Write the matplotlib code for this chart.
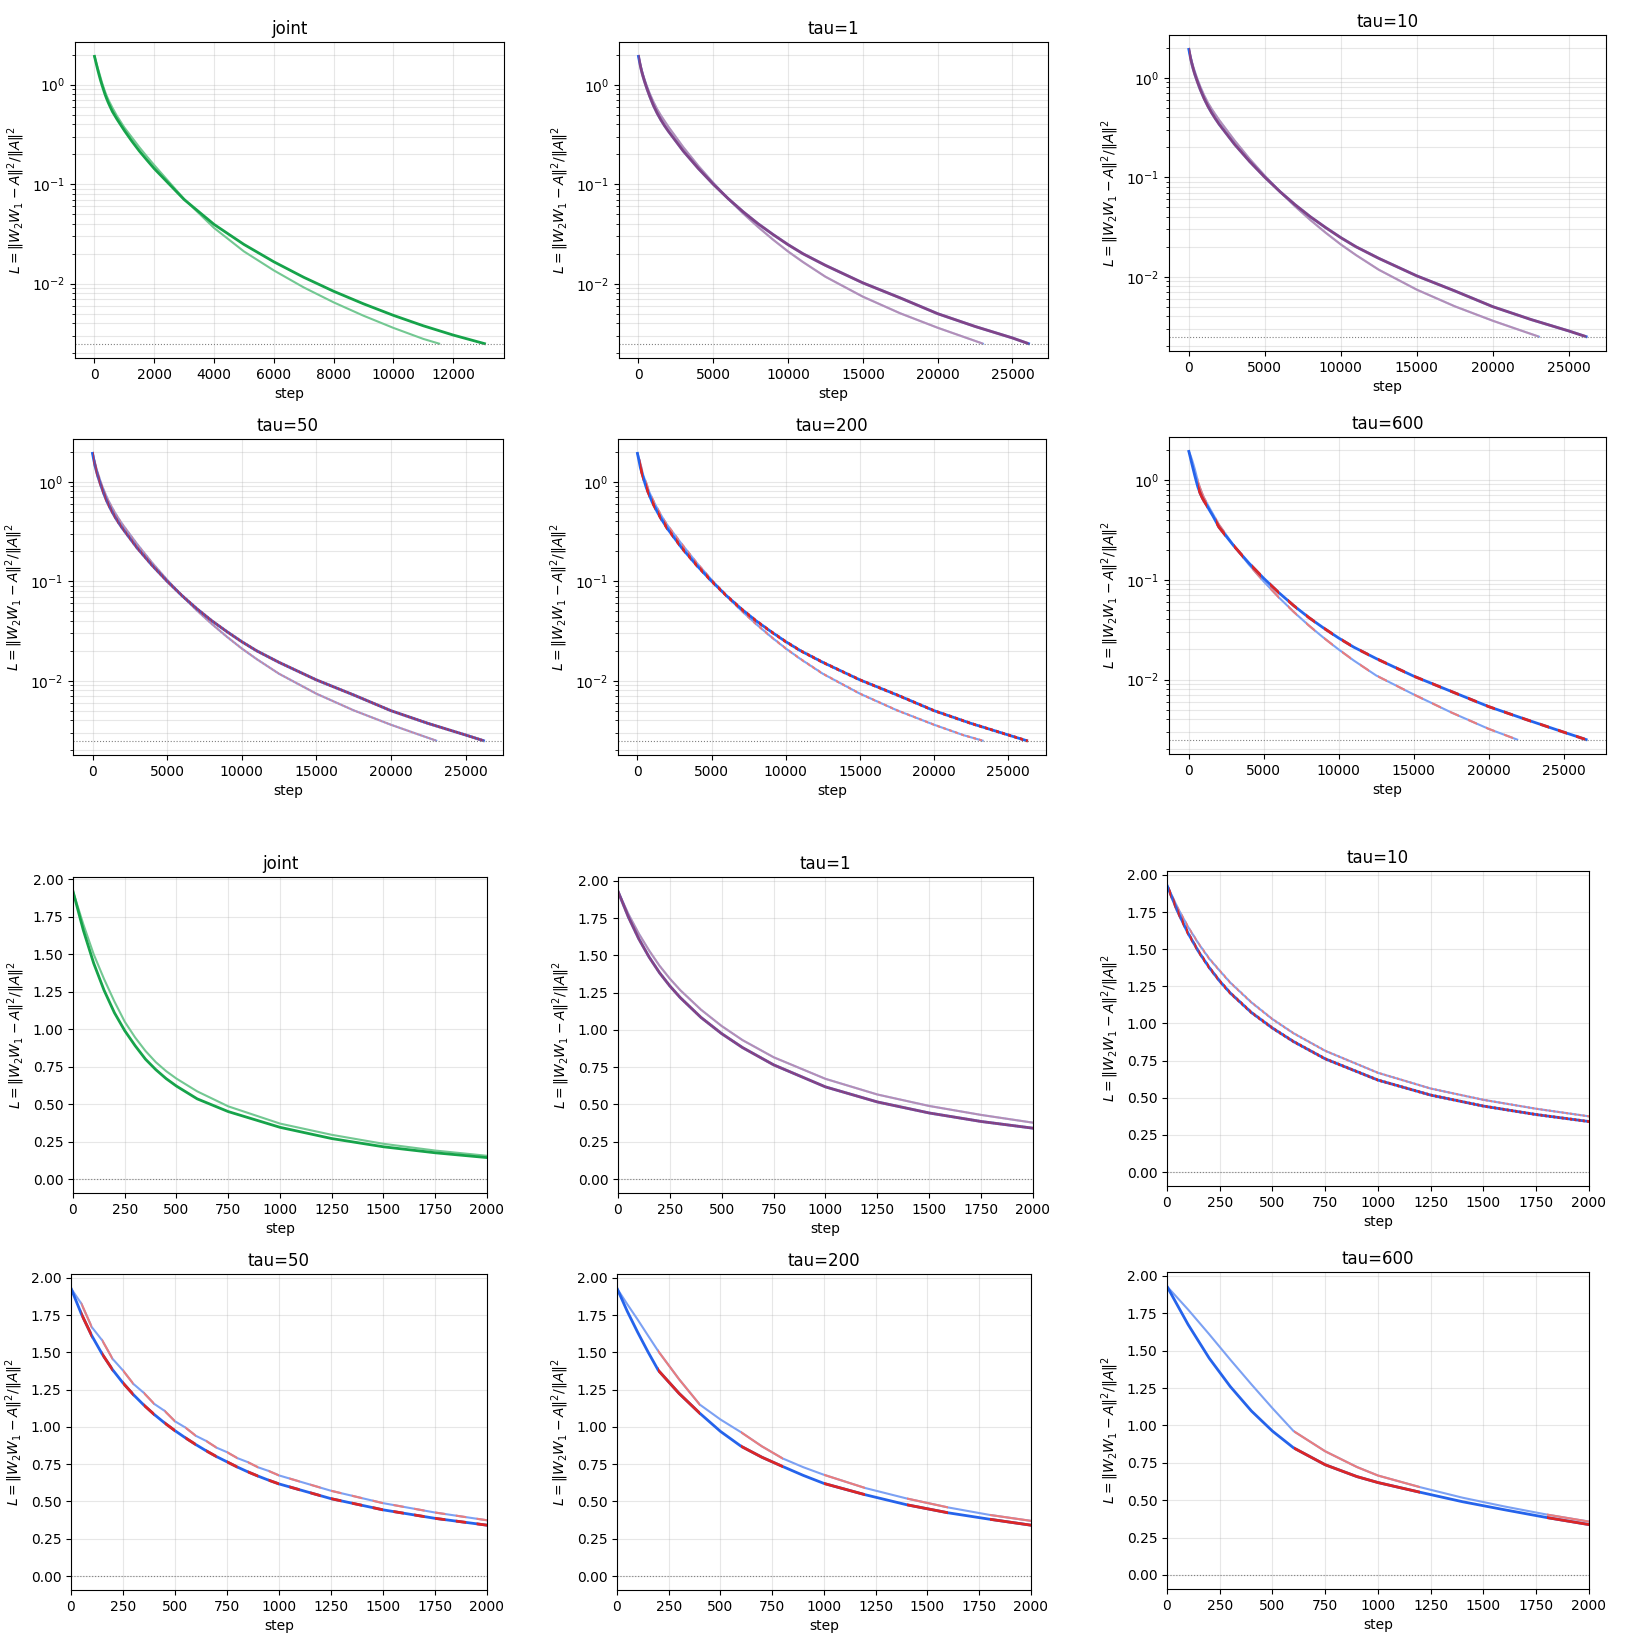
import matplotlib
matplotlib.use("Agg")
import matplotlib.pyplot as plt
import numpy as np
from matplotlib.path import Path
from matplotlib import transforms

# ---- dados ----
TAUS = [1, 10, 50, 200, 600]
THRESHOLD = 2.5e-3

# joint (duas inicializacoes: escura / clara)
joint_dark_steps = [0, 50, 100, 150, 200, 250, 300, 350, 400, 450, 500, 600, 750, 1000, 1250, 1500, 1750, 2000,
                    3000, 4000, 5000, 6000, 7000, 8000, 9000, 10000, 11000, 12000, 13050]
joint_dark_loss = [1.92, 1.66, 1.44, 1.26, 1.11, 0.99, 0.89, 0.80, 0.73, 0.67, 0.62, 0.535, 0.45, 0.345, 0.27,
                   0.215, 0.175, 0.143,
                   0.070, 0.0394, 0.0248, 0.0166, 0.0116, 0.0084, 0.00628, 0.00481, 0.00378, 0.00305, 0.0025]
joint_light_steps = [0, 50, 100, 150, 200, 250, 300, 350, 400, 450, 500, 600, 750, 1000, 1250, 1500, 1750, 2000,
                     3000, 4000, 5000, 6000, 7000, 8000, 9000, 10000, 11000, 11530]
joint_light_loss = [1.92, 1.70, 1.50, 1.335, 1.185, 1.05, 0.945, 0.855, 0.78, 0.72, 0.67, 0.585, 0.485, 0.37, 0.295,
                    0.235, 0.19, 0.155,
                    0.0708, 0.0363, 0.0211, 0.0136, 0.00918, 0.0065, 0.00477, 0.0036, 0.00279, 0.0025]

# inicio (0-2000) das corridas alternadas
early_steps = {
    1: [0, 50, 100, 150, 200, 250, 300, 400, 500, 600, 750, 1000, 1250, 1500, 1750, 2000],
    10: [0, 50, 100, 150, 200, 250, 300, 400, 500, 600, 750, 1000, 1250, 1500, 1750, 2000],
    50: [0, 50, 100, 150, 200, 250, 300, 350, 400, 450, 500, 550, 600, 650, 700, 750, 800, 850, 900, 950, 1000,
         1250, 1500, 1750, 2000],
    200: [0, 50, 100, 150, 200, 300, 400, 500, 600, 700, 800, 900, 1000, 1200, 1400, 1600, 1800, 2000],
    600: [0, 100, 200, 300, 400, 500, 600, 750, 900, 1000, 1200, 1400, 1600, 1800, 2000],
}
early_dark = {
    1: [1.93, 1.758, 1.612, 1.489, 1.384, 1.295, 1.217, 1.084, 0.975, 0.882, 0.766, 0.618, 0.517, 0.443, 0.386, 0.341],
    10: [1.93, 1.755, 1.607, 1.483, 1.377, 1.285, 1.205, 1.074, 0.969, 0.878, 0.762, 0.619, 0.518, 0.444, 0.387, 0.340],
    50: [1.93, 1.758, 1.612, 1.489, 1.384, 1.295, 1.217, 1.147, 1.084, 1.027, 0.975, 0.927, 0.882, 0.840, 0.801,
         0.766, 0.731, 0.699, 0.670, 0.643, 0.618, 0.519, 0.444, 0.387, 0.341],
    200: [1.93, 1.775, 1.635, 1.503, 1.379, 1.225, 1.092, 0.97, 0.870, 0.797, 0.735, 0.675, 0.621, 0.545, 0.478,
          0.424, 0.381, 0.341],
    600: [1.93, 1.675, 1.45, 1.26, 1.097, 0.962, 0.85, 0.737, 0.658, 0.618, 0.553, 0.49, 0.436, 0.384, 0.337],
}
early_light = {
    1: [1.93, 1.778, 1.647, 1.533, 1.431, 1.344, 1.267, 1.136, 1.026, 0.932, 0.817, 0.672, 0.567, 0.49, 0.43, 0.378],
    10: [1.93, 1.78, 1.65, 1.537, 1.437, 1.355, 1.275, 1.142, 1.029, 0.934, 0.816, 0.668, 0.562, 0.486, 0.426, 0.375],
    50: [1.93, 1.827, 1.670, 1.581, 1.457, 1.379, 1.289, 1.229, 1.155, 1.108, 1.038, 0.996, 0.941, 0.906, 0.861,
         0.831, 0.791, 0.764, 0.729, 0.705, 0.675, 0.572, 0.489, 0.426, 0.374],
    200: [1.93, 1.823, 1.72, 1.613, 1.507, 1.32, 1.150, 1.05, 0.964, 0.87, 0.789, 0.73, 0.679, 0.590, 0.520, 0.460,
          0.410, 0.370],
    600: [1.93, 1.775, 1.61, 1.44, 1.275, 1.115, 0.962, 0.827, 0.722, 0.665, 0.587, 0.517, 0.458, 0.404, 0.357],
}

# cauda (>2000) das corridas alternadas
tail_dark_steps = [3000, 4000, 5000, 6000, 7000, 8000, 9000, 10000, 11000, 12500, 15000, 17500, 20000, 22500, 25000]
tail_dark_loss = [0.215, 0.144, 0.100, 0.0716, 0.0528, 0.0400, 0.0312, 0.0247, 0.0200, 0.0153, 0.0102, 0.0072,
                  0.0050, 0.00372, 0.00285]
tail_light_steps = [3000, 4000, 5000, 6000, 7000, 8000, 9000, 10000, 11000, 12500, 15000, 17500, 20000, 22000]
tail_light_loss = [0.235, 0.153, 0.1033, 0.0714, 0.0508, 0.0371, 0.0277, 0.0211, 0.0165, 0.01175, 0.00741, 0.00504,
                   0.00361, 0.00283]
tail600_dark_loss = [0.218, 0.147, 0.103, 0.0742, 0.0549, 0.0418, 0.0327, 0.0260, 0.0211, 0.0162, 0.0108, 0.0076,
                     0.00535, 0.00397, 0.00297]
tail600_light_steps = [3000, 4000, 5000, 6000, 7000, 8000, 9000, 10000, 11000, 12500, 15000, 17500, 20000]
tail600_light_loss = [0.220, 0.142, 0.0957, 0.0665, 0.0475, 0.0348, 0.0261, 0.01995, 0.0155, 0.01096, 0.00708,
                      0.00468, 0.0032]

# passo final (dark, light) de cada tau
end_steps = {1: (26070, 23020), 10: (26140, 23030), 50: (26200, 23030), 200: (26230, 23270), 600: (26500, 21900)}

# ---- estilo ----
BLUE = '#2563eb'
RED = '#dc2626'
GREEN = '#16a34a'
YLABEL = r'$L=\|W_2W_1-A\|^2/\|A\|^2$'


def lighten(c, a=0.6):
    rgb = np.array(matplotlib.colors.to_rgb(c))
    return tuple(rgb * a + (1 - a))


# posicoes dos eixos em pixels (x0, y0, x1, y1)
W, H = 1640, 1642
pos_log = {'joint': (75, 42, 504, 358), 1: (619, 42, 1048, 358), 10: (1169, 35, 1606, 351),
           50: (73, 439, 503, 755), 200: (618, 439, 1046, 755), 600: (1169, 437, 1606, 754)}
pos_lin = {'joint': (73, 877, 487, 1193), 1: (618, 877, 1033, 1193), 10: (1167, 871, 1589, 1186),
           50: (71, 1274, 487, 1590), 200: (617, 1274, 1031, 1590), 600: (1167, 1272, 1589, 1589)}


def make_ax(fig, p):
    x0, y0, x1, y1 = p
    return fig.add_axes([x0 / W, 1 - y1 / H, (x1 - x0) / W, (y1 - y0) / H])


def band_path(tau, x_end):
    # faixas onde a camada "vermelha" e atualizada
    verts, codes = [], []
    k = 1
    while k * tau < x_end:
        a, b = k * tau, (k + 1) * tau
        verts += [(a, -1), (b, -1), (b, 2), (a, 2), (a, -1)]
        codes += [Path.MOVETO, Path.LINETO, Path.LINETO, Path.LINETO, Path.CLOSEPOLY]
        k += 2
    return Path(verts, codes)


def run_data(tau, dark):
    if dark:
        st = early_steps[tau] + tail_dark_steps + [end_steps[tau][0]]
        ls = early_dark[tau] + (tail600_dark_loss if tau == 600 else tail_dark_loss) + [THRESHOLD]
    else:
        tsteps = tail600_light_steps if tau == 600 else tail_light_steps
        tloss = tail600_light_loss if tau == 600 else tail_light_loss
        st = early_steps[tau] + tsteps + [end_steps[tau][1]]
        ls = early_light[tau] + tloss + [THRESHOLD]
    return st, ls


def draw_alt(ax, tau, dark):
    st, ls = run_data(tau, dark)
    lw = 2.0 if dark else 1.5
    c_blue = BLUE if dark else lighten(BLUE)
    c_red = RED if dark else lighten(RED)
    ax.plot(st, ls, color=c_blue, lw=lw)
    red, = ax.plot(st, ls, color=c_red, lw=lw)
    trans = transforms.blended_transform_factory(ax.transData, ax.transAxes)
    red.set_clip_path(band_path(tau, st[-1]), trans)


def draw_panel(ax, key, logy):
    if key == 'joint':
        ax.plot(joint_light_steps, joint_light_loss, color=lighten(GREEN), lw=1.5)
        ax.plot(joint_dark_steps, joint_dark_loss, color=GREEN, lw=2.0)
        ax.set_title('joint', fontsize=12)
    else:
        draw_alt(ax, key, False)
        draw_alt(ax, key, True)
        ax.set_title('tau=' + str(key), fontsize=12)
    ax.axhline(THRESHOLD, color='gray', ls=':', lw=0.8)
    ax.set_xlabel('step')
    ax.set_ylabel(YLABEL)
    if logy:
        ax.set_yscale('log')
        ax.grid(True, which='both', alpha=0.3)
    else:
        ax.set_xlim(0, 2000)
        ax.grid(True, alpha=0.3)


fig = plt.figure(figsize=(16.4, 16.42), dpi=100)
for key in ['joint'] + TAUS:
    draw_panel(make_ax(fig, pos_log[key]), key, True)
    draw_panel(make_ax(fig, pos_lin[key]), key, False)

plt.savefig('out.png', dpi=100)
plt.close()
